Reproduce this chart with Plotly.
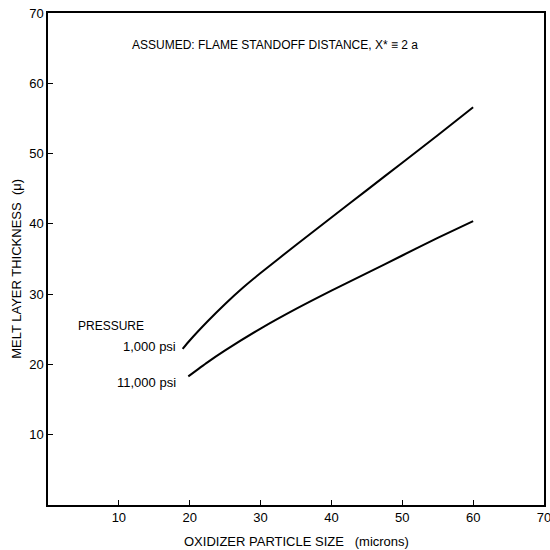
import plotly.graph_objects as go

x_1000 = [19, 20, 22.5, 25, 27.5, 30, 35, 40, 45, 50, 55, 60]
y_1000 = [22.2, 23.4, 26.1, 28.6, 30.9, 33.0, 37.0, 40.9, 44.8, 48.7, 52.6, 56.6]

x_11000 = [19.8, 22.5, 25, 30, 35, 40, 45, 50, 55, 60]
y_11000 = [18.3, 20.3, 22.0, 25.1, 27.9, 30.5, 33.0, 35.5, 38.0, 40.4]

x_ticks = [10, 20, 30, 40, 50, 60, 70]
y_ticks = [10, 20, 30, 40, 50, 60, 70]

FONT = "Liberation Sans, Arial, sans-serif"

fig = go.Figure()
fig.add_trace(go.Scatter(x=x_1000, y=y_1000, mode="lines", line=dict(color="black", width=2, shape="spline", smoothing=0.6), name="1,000 psi"))
fig.add_trace(go.Scatter(x=x_11000, y=y_11000, mode="lines", line=dict(color="black", width=2, shape="spline", smoothing=0.6), name="11,000 psi"))

axis_common = dict(showgrid=False, zeroline=False, showline=True, linecolor="black", linewidth=1.5,
                   mirror=True, ticks="inside", ticklen=5, tickcolor="black", tickwidth=1,
                   automargin=False, ticklabeloverflow="allow",
                   tickfont=dict(family=FONT, size=13, color="black"))

fig.update_xaxes(range=[0, 70], tickvals=x_ticks, ticktext=[str(v) for v in x_ticks], **axis_common)
fig.update_yaxes(range=[0, 70], tickvals=y_ticks, ticktext=[str(v) for v in y_ticks], **axis_common)

ann_font = dict(family=FONT, size=13, color="black")
fig.add_annotation(xref="paper", yref="paper", x=0.5, y=0, yshift=-36, yanchor="middle",
                   text="OXIDIZER PARTICLE SIZE   (microns)", showarrow=False, font=ann_font)
fig.add_annotation(xref="paper", yref="paper", x=0, xshift=-31, y=0.48, textangle=-90, xanchor="center",
                   text="MELT LAYER THICKNESS  (μ)", showarrow=False, font=ann_font)
fig.add_annotation(x=32, y=65.4, text="ASSUMED: FLAME STANDOFF DISTANCE, X* ≡ 2 a", showarrow=False,
                   font=dict(family=FONT, size=12, color="black"), xanchor="center")
fig.add_annotation(x=4.0, y=25.4, text="PRESSURE", showarrow=False,
                   font=dict(family=FONT, size=12, color="black"), xanchor="left")
fig.add_annotation(x=18.4, y=22.5, text="1,000 psi", showarrow=False, font=ann_font, xanchor="right")
fig.add_annotation(x=18.4, y=17.5, text="11,000 psi", showarrow=False, font=ann_font, xanchor="right")

fig.update_layout(width=550, height=550, margin=dict(l=48, r=6, t=13, b=45),
                  plot_bgcolor="white", paper_bgcolor="white", showlegend=False)

fig.write_html("out.html", config={"displayModeBar": False},
               post_script="document.body.style.margin='0px';document.body.style.overflow='hidden';")
